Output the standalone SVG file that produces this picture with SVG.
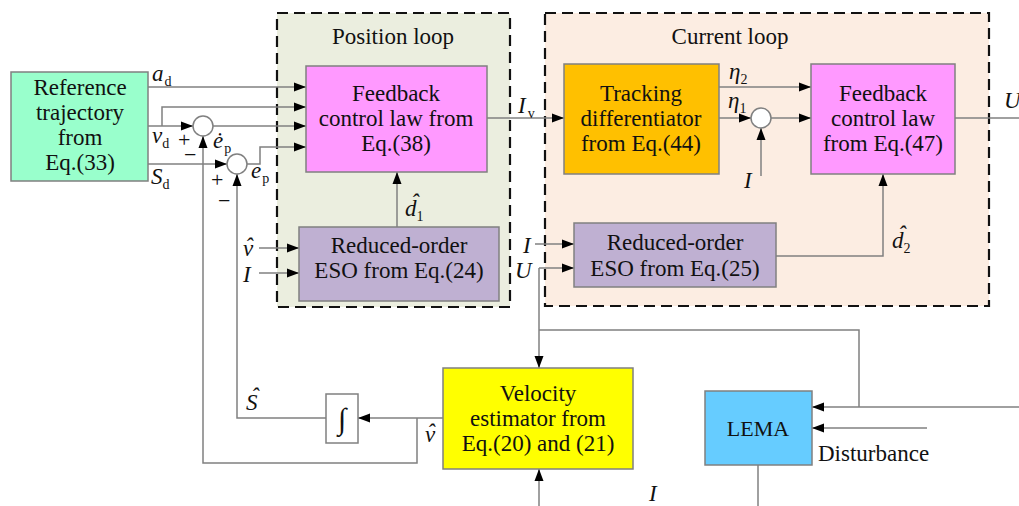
<svg xmlns="http://www.w3.org/2000/svg" width="1019" height="506" viewBox="0 0 1019 506">
<defs>
<marker id="arr" viewBox="0 0 12 10" refX="12" refY="5" markerWidth="12" markerHeight="10" markerUnits="userSpaceOnUse" orient="auto">
<path d="M0,0.5 L12,5 L0,9.5 Z" fill="#000"/>
</marker>
</defs>
<style>
.t{font-family:"Liberation Serif","Times New Roman",serif;font-size:23px;fill:#111;text-anchor:middle}
.m{font-family:"Liberation Serif","Times New Roman",serif;font-size:23px;font-style:italic;fill:#111}
.s{font-family:"Liberation Serif","Times New Roman",serif;font-size:14px;font-style:normal;fill:#111}
.p{font-family:"Liberation Serif","Times New Roman",serif;font-size:22px;fill:#111}
.box{stroke:#808080;stroke-width:1.5}
.ln{fill:none;stroke:#808080;stroke-width:1.5}
.la{fill:none;stroke:#808080;stroke-width:1.5;marker-end:url(#arr)}
.dash{stroke:#111;stroke-width:2.2;stroke-dasharray:11 6}
.sum{fill:#fff;stroke:#808080;stroke-width:1.5}
</style>

<g id="position-loop">
<rect class="dash" x="277" y="13" width="233" height="294" fill="#EBEEDF"/>
<text class="t" x="393" y="44">Position loop</text>
</g>
<g id="current-loop">
<rect class="dash" x="545" y="13" width="444" height="293" fill="#FCEDE2"/>
<text class="t" x="730" y="44">Current loop</text>
</g>

<g id="connectors">
<line class="la" x1="148" y1="87" x2="306" y2="87"/>
<polyline class="la" points="162,126 162,107 306,107"/>
<line class="la" x1="148" y1="126" x2="193" y2="126"/>
<line class="la" x1="213" y1="126" x2="306" y2="126"/>
<line class="la" x1="148" y1="164" x2="227" y2="164"/>
<polyline class="la" points="247,164 260,164 260,147 306,147"/>
<polyline class="la" points="417,418 417,463 203,463 203,136"/>
<polyline class="la" points="326,418 237,418 237,174"/>
<line class="la" x1="443" y1="418" x2="358" y2="418"/>
<line class="la" x1="259" y1="248" x2="299" y2="248"/>
<line class="la" x1="259" y1="273" x2="299" y2="273"/>
<line class="la" x1="397" y1="227" x2="397" y2="172"/>
<line class="la" x1="487" y1="118" x2="564" y2="118"/>
<line class="la" x1="719" y1="87" x2="811" y2="87"/>
<line class="la" x1="719" y1="118" x2="751" y2="118"/>
<line class="la" x1="771" y1="118" x2="811" y2="118"/>
<line class="la" x1="761" y1="176" x2="761" y2="128"/>
<line class="ln" x1="955" y1="118" x2="1019" y2="118"/>
<line class="la" x1="535" y1="244" x2="574" y2="244"/>
<line class="la" x1="539" y1="268" x2="574" y2="268"/>
<polyline class="la" points="776,256 883,256 883,174"/>
<line class="la" x1="539" y1="268" x2="539" y2="368"/>
<polyline class="ln" points="539,330 859,330 859,407"/>
<line class="la" x1="1019" y1="407" x2="812" y2="407"/>
<line class="la" x1="927" y1="428" x2="812" y2="428"/>
<line class="ln" x1="758" y1="465" x2="758" y2="506"/>
<line class="la" x1="539" y1="506" x2="539" y2="469"/>
</g>

<g id="reference">
<rect class="box" x="11" y="72" width="137" height="109" fill="#99FFCC"/>
<text class="t" x="80" y="95">Reference</text>
<text class="t" x="80" y="120">trajectory</text>
<text class="t" x="80" y="145">from</text>
<text class="t" x="80" y="170">Eq.(33)</text>
</g>

<g id="sum1"><circle class="sum" cx="203" cy="126" r="10"/></g>
<g id="sum2"><circle class="sum" cx="237" cy="164" r="10"/></g>
<g id="sum3"><circle class="sum" cx="761" cy="118" r="10"/></g>

<g id="feedback38">
<rect class="box" x="306" y="66" width="181" height="106" fill="#FF99FF"/>
<text class="t" x="396" y="101">Feedback</text>
<text class="t" x="396" y="126">control law from</text>
<text class="t" x="396" y="151">Eq.(38)</text>
</g>

<g id="eso24">
<rect class="box" x="299" y="227" width="200" height="74" fill="#BFB0D2"/>
<text class="t" x="399" y="253">Reduced-order</text>
<text class="t" x="399" y="278">ESO from Eq.(24)</text>
</g>

<g id="tracking">
<rect class="box" x="564" y="64" width="155" height="110" fill="#FFC000"/>
<text class="t" x="641" y="101">Tracking</text>
<text class="t" x="641" y="126">differentiator</text>
<text class="t" x="641" y="151">from Eq.(44)</text>
</g>

<g id="feedback47">
<rect class="box" x="811" y="64" width="144" height="110" fill="#FF99FF"/>
<text class="t" x="883" y="101">Feedback</text>
<text class="t" x="883" y="126">control law</text>
<text class="t" x="883" y="151">from Eq.(47)</text>
</g>

<g id="eso25">
<rect class="box" x="574" y="223" width="202" height="64" fill="#BFB0D2"/>
<text class="t" x="675" y="250">Reduced-order</text>
<text class="t" x="675" y="276">ESO from Eq.(25)</text>
</g>

<g id="velocity">
<rect class="box" x="443" y="368" width="190" height="101" fill="#FFFF00"/>
<text class="t" x="538" y="401">Velocity</text>
<text class="t" x="538" y="426">estimator from</text>
<text class="t" x="538" y="451">Eq.(20) and (21)</text>
</g>

<g id="integrator">
<rect class="box" x="326" y="394" width="32" height="49" fill="#fff"/>
<text class="t" x="342" y="429" style="font-size:30px">∫</text>
</g>

<g id="lema">
<rect class="box" x="705" y="391" width="107" height="74" fill="#66CCFF"/>
<text class="t" x="758" y="436" style="font-size:22px">LEMA</text>
</g>

<g id="labels">
<text class="m" x="152" y="81">a<tspan class="s" dx="1" dy="5">d</tspan></text>
<text class="m" x="152" y="143">v<tspan class="s" dx="0" dy="5">d</tspan></text>
<text class="m" x="151" y="184">S<tspan class="s" dx="0" dy="5">d</tspan></text>
<text class="m" x="213" y="148">ė<tspan class="s" dx="1" dy="5">p</tspan></text>
<text class="m" x="251" y="178">e<tspan class="s" dx="1" dy="5">p</tspan></text>
<text class="p" x="178" y="147">+</text>
<text class="p" x="184" y="162">−</text>
<text class="p" x="211" y="187">+</text>
<text class="p" x="218" y="208">−</text>
<text class="m" x="518" y="113">I<tspan class="s" dx="2" dy="5">v</tspan></text>
<text class="m" x="729" y="79">η<tspan class="s" dx="0" dy="5">2</tspan></text>
<text class="m" x="728" y="108">η<tspan class="s" dx="0" dy="5">1</tspan></text>
<text class="m" x="744" y="188">I</text>
<text class="m" x="1004" y="108">U</text>
<text class="m" x="892" y="248">d<tspan class="s" dx="0" dy="5">2</tspan></text>
<text class="m" x="898" y="242">ˆ</text>
<text class="m" x="405" y="216">d<tspan class="s" dx="0" dy="5">1</tspan></text>
<text class="m" x="411" y="210">ˆ</text>
<text class="m" x="523" y="253">I</text>
<text class="m" x="515" y="278">U</text>
<text class="m" x="243" y="256">v</text>
<text class="m" x="245" y="254">ˆ</text>
<text class="m" x="243" y="282">I</text>
<text class="m" x="246" y="410">S</text>
<text class="m" x="251" y="404">ˆ</text>
<text class="m" x="425" y="442">v</text>
<text class="m" x="427" y="440">ˆ</text>
<text class="m" x="649" y="501">I</text>
<text class="p" x="818" y="461" style="font-size:23px">Disturbance</text>
</g>
</svg>
